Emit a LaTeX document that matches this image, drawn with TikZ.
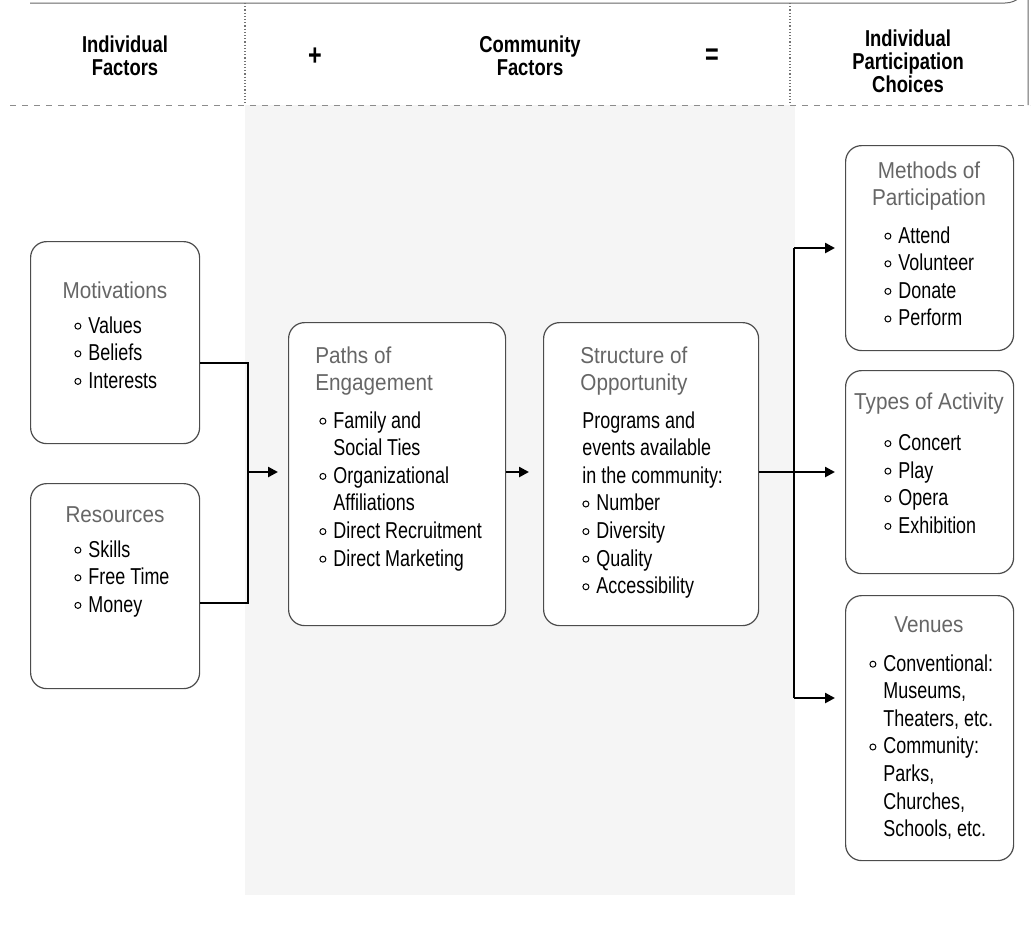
\documentclass[tikz,border=0pt]{standalone}
\usepackage{fontspec}
\setmainfont{Liberation Sans}[FakeStretch=0.78]
\newfontfamily\hdfont{Liberation Sans}[FakeStretch=0.8]
\newfontfamily\ttlfont{Liberation Sans}[FakeStretch=0.9]
\usetikzlibrary{arrows.meta,calc}
\newcommand\bul{\makebox[7pt][l]{\tikz[baseline=0pt]\draw[line width=0.5pt](1.6pt,0.3em) circle (1.5pt);}}
\newcommand\ind{\hspace*{7pt}}
\tikzset{
  panel/.style={draw=black!70, fill=white, line width=0.6pt, rounded corners=8pt, inner sep=0pt, anchor=north west},
  body/.style={align=left, inner sep=0pt, anchor=north west, font=\fontsize{11.5}{13.8}\selectfont},
  ttl/.style={align=center, inner sep=0pt, anchor=north, text=black!60, font=\ttlfont\fontsize{11.5}{13.8}\selectfont},
  ttll/.style={ttl, align=left, anchor=north west},
  hdr/.style={align=center, inner sep=0pt, font=\hdfont\bfseries\fontsize{11.5}{11.5}\selectfont},
  conn/.style={line width=1.2pt, black},
  arr/.style={conn, -{Triangle[length=5pt,width=5pt]}}
}
\begin{document}
\begin{tikzpicture}[x=0.5pt,y=-0.5pt]
\useasboundingbox (0,0) rectangle (1032,939);
% community column background
\fill[black!4] (245,105) rectangle (795,895);
% header band
\draw[black!60, line width=0.5pt] (30,3) -- (1005,3) arc[start angle=90, end angle=0, radius=23] -- (1028,105);
\draw[black!45, line width=0.5pt, dashed] (10,105) -- (1030,105);
\draw[black!55, line width=0.6pt, densely dotted] (245,3) -- (245,105);
\draw[black!55, line width=0.6pt, densely dotted] (790,3) -- (790,105);
\node[hdr] (h1) at (125,56) {Individual\\Factors};
\node[hdr, font=\bfseries\fontsize{15}{15}\selectfont] (hplus) at (315,57) {+};
\node[hdr] (h2) at (530,56) {Community\\Factors};
\node[hdr, font=\bfseries\fontsize{15}{15}\selectfont] (heq) at (712,57) {=};
\node[hdr] (h3) at (908,61) {Individual\\Participation\\Choices};
% boxes
\node[panel, minimum width=84.5pt, minimum height=101pt] (mot) at (30,241) {};
\node[panel, minimum width=84.5pt, minimum height=102.5pt] (res) at (30,483) {};
\node[panel, minimum width=108.5pt, minimum height=151.5pt] (paths) at (288,322) {};
\node[panel, minimum width=107.5pt, minimum height=151.5pt] (struct) at (543,322) {};
\node[panel, minimum width=84pt, minimum height=102.5pt] (meth) at (845,145) {};
\node[panel, minimum width=84pt, minimum height=101.5pt] (types) at (845,370) {};
\node[panel, minimum width=84pt, minimum height=132.5pt] (ven) at (845,595) {};
% texts
\node[ttl] (motT) at (115,281) {Motivations};
\node[body] (motB) at (74,316) {\bul Values\\\bul Beliefs\\\bul Interests};
\node[ttl] (resT) at (115,506) {Resources};
\node[body] (resB) at (74,540) {\bul Skills\\\bul Free Time\\\bul Money};
\node[ttll] (pathT) at (315,346) {Paths of\\Engagement};
\node[body] (pathB) at (319,411) {\bul Family and\\\ind Social Ties\\\bul Organizational\\\ind Affiliations\\\bul Direct Recruitment\\\bul Direct Marketing};
\node[ttll] (strT) at (580,346) {Structure of\\Opportunity};
\node[body] (strB) at (582,411) {Programs and\\events available\\in the community:\\\bul Number\\\bul Diversity\\\bul Quality\\\bul Accessibility};
\node[ttl] (methT) at (929,161) {Methods of\\Participation};
\node[body] (methB) at (884,226) {\bul Attend\\\bul Volunteer\\\bul Donate\\\bul Perform};
\node[ttl] (typT) at (929,392) {Types of Activity};
\node[body] (typB) at (884,434) {\bul Concert\\\bul Play\\\bul Opera\\\bul Exhibition};
\node[ttl] (venT) at (929,616) {Venues};
\node[body] (venB) at (869,654) {\bul Conventional:\\\ind Museums,\\\ind Theaters, etc.\\\bul Community:\\\ind Parks,\\\ind Churches,\\\ind Schools, etc.};
% connectors
\coordinate (jt) at (248,363);
\coordinate (jb) at (248,603);
\coordinate (jm) at (248,472);
\draw[conn] (mot.east |- jt) -- (jt) -- (jb) -- (res.east |- jb);
\draw[arr, shorten >=5pt] (jm) -- (paths.west |- jm);
\draw[arr, shorten >=7pt] (paths.east |- jm) -- (struct.west |- jm);
\coordinate (rt) at (794,248);
\coordinate (rb) at (794,698);
\draw[conn] (struct.east |- jm) -- (rt |- jm);
\draw[conn] (rt) -- (rb);
\draw[arr, shorten >=5pt] (rt) -- (meth.west |- rt);
\draw[arr, shorten >=5pt] (rt |- jm) -- (types.west |- jm);
\draw[arr, shorten >=5pt] (rb) -- (ven.west |- rb);
\end{tikzpicture}
\end{document}
